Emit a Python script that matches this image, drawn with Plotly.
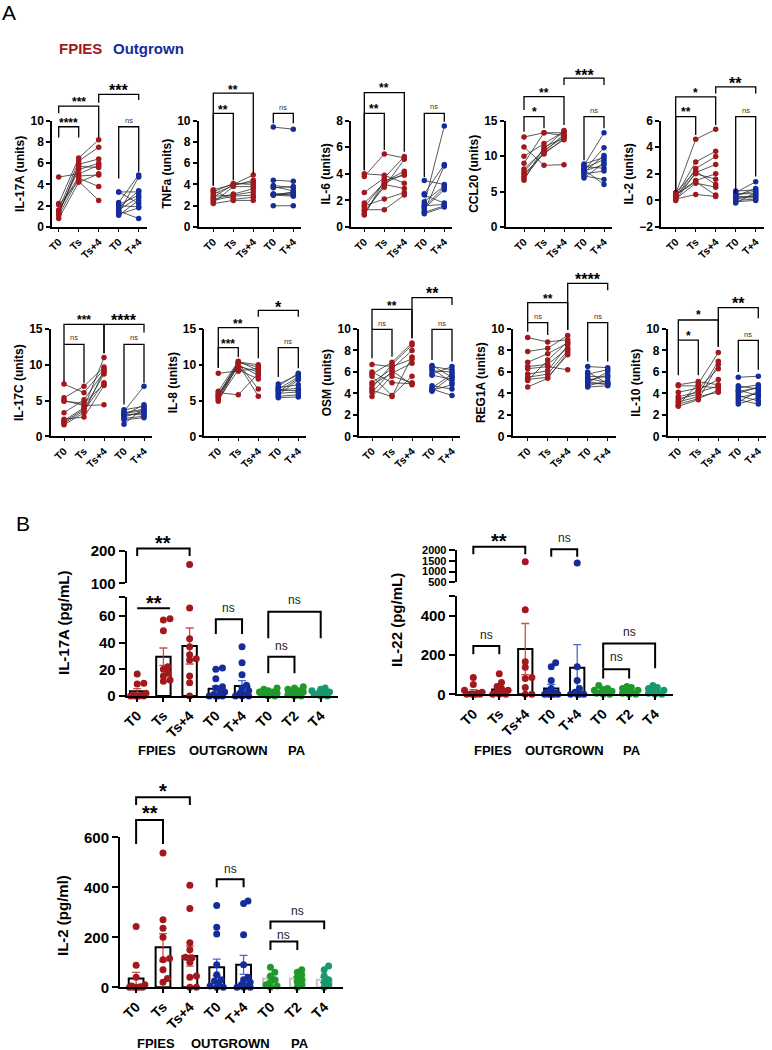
import plotly.graph_objects as go

W, H = 772, 1050
FONT = 'Liberation Sans, Arial, sans-serif'
RED = '#A3181C'
BLUE = '#152C9C'
GREEN = '#1F9A2A'
TEAL = '#179870'

# ---------------- panel A : paired values ----------------
a_ticks = ['T0', 'Ts', 'Ts+4', 'T0', 'T+4']

il17a_t0 = [4.7, 2.2, 2.1, 1.6, 1.4, 1.2, 1.1, 0.8, 1.3, 1.5]
il17a_ts = [5.0, 6.5, 4.3, 6.2, 5.4, 5.9, 4.6, 4.2, 5.7, 4.8]
il17a_ts4 = [5.8, 8.2, 2.5, 7.5, 6.0, 6.4, 3.8, 5.0, 5.6, 4.9]
il17a_o0 = [3.3, 3.3, 2.3, 2.1, 2.0, 1.8, 1.6, 1.5, 1.3, 1.2, 1.1]
il17a_o4 = [3.3, 2.2, 4.9, 3.0, 1.9, 3.4, 2.8, 0.8, 4.7, 1.8, 2.5]

tnfa_t0 = [3.5, 3.4, 3.3, 3.1, 2.9, 2.8, 2.6, 2.5, 2.3, 2.2]
tnfa_ts = [4.0, 2.6, 4.1, 3.9, 3.0, 4.0, 3.1, 2.9, 3.8, 2.5]
tnfa_ts4 = [4.2, 2.8, 4.0, 4.4, 3.3, 4.9, 3.6, 3.0, 3.8, 2.5]
tnfa_o0 = [9.4, 4.4, 3.9, 3.8, 3.7, 3.1, 3.0, 3.0, 3.0, 2.0, 3.1]
tnfa_o4 = [9.2, 4.3, 3.7, 3.4, 3.8, 3.2, 3.1, 2.9, 3.3, 2.0, 3.0]

il6_t0 = [4.0, 3.8, 2.6, 1.8, 1.6, 1.5, 1.3, 1.2, 1.0, 0.9]
il6_ts = [3.9, 5.5, 3.7, 3.3, 2.1, 3.4, 1.3, 3.0, 3.2, 3.5]
il6_ts4 = [3.3, 5.2, 5.3, 4.0, 2.6, 4.2, 2.4, 5.1, 2.9, 3.9]
il6_o0 = [3.5, 2.5, 2.4, 1.9, 1.7, 1.6, 1.5, 1.4, 1.2, 1.1, 1.0]
il6_o4 = [3.2, 4.7, 1.8, 3.1, 7.6, 1.7, 3.0, 2.8, 4.6, 1.6, 1.5]

ccl20_t0 = [12.7, 11.3, 10.0, 9.0, 8.2, 7.8, 7.5, 7.2, 6.9, 6.6]
ccl20_ts = [13.3, 8.7, 11.8, 13.3, 10.8, 11.0, 10.3, 10.6, 10.5, 11.3]
ccl20_ts4 = [13.3, 8.8, 13.5, 12.9, 12.7, 13.6, 12.5, 13.1, 12.3, 12.6]
ccl20_o0 = [8.9, 8.7, 8.5, 8.3, 8.1, 8.0, 7.9, 7.7, 7.5, 7.2, 6.9]
ccl20_o4 = [9.8, 13.3, 8.3, 9.5, 6.0, 11.2, 8.8, 10.1, 7.9, 6.7, 9.1]

il2a_t0 = [0.6, 0.5, 0.4, 0.3, 0.3, 0.2, 0.1, 0.1, 0.0, 0.4]
il2a_ts = [2.2, 4.6, 1.4, 2.9, 2.0, 2.4, 0.45, 1.3, 2.1, 1.5]
il2a_ts4 = [1.2, 5.35, 0.4, 3.7, 1.6, 3.3, 0.3, 1.0, 2.7, 2.0]
il2a_o0 = [0.7, 0.6, 0.5, 0.4, 0.3, 0.2, 0.1, 0.0, -0.1, -0.2, 0.35]
il2a_o4 = [0.8, 1.4, 0.5, 0.7, 0.3, 0.2, 0.4, 0.1, 0.0, 0.6, 0.9]

il17c_t0 = [7.3, 5.4, 5.0, 4.9, 3.3, 2.4, 2.2, 2.0, 1.8, 1.6]
il17c_ts = [6.1, 7.0, 4.3, 4.6, 5.1, 2.7, 4.0, 3.8, 3.6, 3.3]
il17c_ts4 = [9.4, 9.7, 4.4, 7.3, 9.0, 7.1, 11.0, 8.7, 7.5, 9.2]
il17c_o0 = [3.7, 3.5, 3.3, 3.1, 3.0, 2.9, 2.7, 2.5, 2.3, 1.7, 3.2]
il17c_o4 = [4.2, 7.0, 3.8, 3.0, 4.4, 3.3, 3.5, 2.8, 2.6, 4.0, 3.6]

il8_t0 = [8.8, 6.3, 6.1, 5.9, 5.7, 5.6, 5.5, 5.3, 5.1, 4.9]
il8_ts = [9.1, 10.5, 5.8, 10.2, 10.4, 9.8, 10.3, 10.0, 9.3, 10.1]
il8_ts4 = [9.5, 9.2, 8.8, 6.6, 10.0, 9.0, 9.7, 8.5, 8.0, 5.6]
il8_o0 = [7.3, 7.0, 6.8, 6.6, 6.4, 6.2, 6.0, 5.8, 5.6, 5.4, 6.5]
il8_o4 = [8.6, 8.8, 7.2, 8.3, 6.4, 8.1, 6.2, 7.9, 5.8, 5.5, 6.7]

osm_t0 = [6.7, 6.0, 5.8, 5.6, 5.0, 4.8, 4.5, 4.3, 4.1, 3.7]
osm_ts = [6.5, 5.0, 6.9, 3.8, 6.3, 5.9, 6.7, 3.7, 6.1, 5.6]
osm_ts4 = [7.2, 4.9, 8.7, 5.6, 8.0, 6.8, 8.5, 7.4, 4.8, 5.0]
osm_o0 = [6.6, 6.5, 6.3, 5.8, 5.7, 4.7, 4.5, 4.4, 4.3, 4.2, 6.1]
osm_o4 = [5.5, 6.2, 5.0, 6.5, 5.3, 4.4, 5.8, 3.8, 4.8, 5.6, 6.0]

reg1a_t0 = [9.2, 7.9, 6.9, 6.5, 6.3, 5.8, 5.5, 5.3, 5.2, 4.6]
reg1a_ts = [8.8, 8.2, 7.7, 6.7, 6.5, 6.1, 5.8, 5.5, 7.1, 5.4]
reg1a_ts4 = [9.0, 9.4, 8.7, 8.2, 6.2, 8.5, 8.0, 7.6, 8.8, 7.8]
reg1a_o0 = [6.5, 6.0, 5.8, 5.6, 5.4, 5.2, 5.1, 5.0, 4.9, 4.7, 4.6]
reg1a_o4 = [6.4, 4.9, 6.2, 5.5, 5.0, 5.7, 4.8, 6.0, 4.9, 5.2, 4.7]

il10_t0 = [4.8, 4.7, 4.1, 3.7, 3.5, 3.3, 3.2, 3.0, 2.9, 2.8]
il10_ts = [5.1, 4.7, 4.5, 4.1, 3.9, 4.3, 3.7, 3.5, 4.9, 3.4]
il10_ts4 = [4.8, 4.5, 6.3, 4.7, 7.0, 5.3, 4.1, 4.3, 7.8, 6.7]
il10_o0 = [5.5, 4.7, 4.5, 4.3, 4.0, 3.8, 3.6, 3.4, 3.2, 3.0, 4.2]
il10_o4 = [5.6, 4.4, 4.8, 3.8, 4.6, 3.3, 4.0, 3.0, 4.2, 3.6, 4.5]

# brackets: (from, to, top, left leg end, right leg end, label, label y)
il17a_br = [(0, 1, 9.43, 8.43, 8.43, '****', 10.0), (0, 2, 11.38, 10.69, 8.43, '***', 11.95),
            (2, 4, 12.48, 11.7, 11.95, '***', 13.1), (3, 4, 9.43, 4.56, 5.19, 'ns', 10.0)]
tnfa_br = [(0, 1, 10.69, 3.9, 4.4, '**', 11.26), (0, 2, 12.6, 3.9, 5.03, '**', 13.1),
           (3, 4, 10.69, 9.75, 9.75, 'ns', 11.26)]
il6_br = [(0, 1, 8.55, 4.28, 5.79, '**', 9.06), (0, 2, 10.11, 4.28, 5.66, '**', 10.62),
          (3, 4, 8.55, 3.77, 7.92, 'ns', 9.06)]
ccl20_br = [(0, 1, 15.57, 13.44, 13.92, '*', 16.5), (0, 2, 18.4, 16.5, 14.4, '**', 19.3),
            (2, 4, 21.0, 20.05, 20.05, '***', 21.8), (3, 4, 15.57, 9.43, 13.92, 'ns', 16.5)]
il2a_br = [(0, 1, 6.3, 0.68, 4.93, '**', 6.8), (0, 2, 7.8, 0.68, 5.68, '*', 8.3),
           (2, 4, 8.55, 8.05, 8.05, '**', 9.05), (3, 4, 6.3, 0.55, 1.8, 'ns', 6.8)]
il17c_br = [(0, 1, 12.86, 7.6, 7.5, 'ns', 13.8), (0, 2, 15.65, 12.86, 11.6, '***', 16.6),
            (2, 4, 15.65, 11.6, 14.5, '****', 16.6), (3, 4, 12.86, 4.45, 7.5, 'ns', 13.8)]
il8_br = [(0, 1, 12.4, 9.6, 11.1, '***', 13.2), (0, 2, 15.2, 9.6, 10.9, '**', 16.0),
          (2, 4, 17.6, 16.7, 16.7, '*', 18.5), (3, 4, 12.4, 8.3, 9.5, 'ns', 13.2)]
osm_br = [(0, 1, 9.97, 7.27, 7.42, 'ns', 10.5), (0, 2, 11.83, 9.97, 9.13, '**', 12.4),
          (2, 4, 12.92, 9.13, 12.23, '**', 13.6), (3, 4, 9.97, 7.11, 6.96, 'ns', 10.5)]
reg1a_br = [(0, 1, 10.6, 9.75, 9.44, 'ns', 11.2), (0, 2, 12.45, 10.6, 9.91, '**', 13.0),
            (2, 4, 14.25, 9.91, 13.6, '****', 14.9), (3, 4, 10.6, 6.96, 6.96, 'ns', 11.2)]
il10_br = [(0, 1, 8.97, 5.7, 5.7, '*', 9.6), (0, 2, 10.84, 8.97, 8.35, '*', 11.5),
           (2, 4, 12.0, 8.35, 11.0, '**', 12.7), (3, 4, 8.94, 6.0, 6.2, 'ns', 9.5)]

# ---------------- panel B : bar + dot plots ----------------
b_ticks = ['T0', 'Ts', 'Ts+4', 'T0', 'T+4', 'T0', 'T2', 'T4']
b_groups = ['FPIES', 'OUTGROWN', 'PA']

il17a_b_pts = [
    [16.5, 9.5, 9.0, 2.0, 1.0, 0.5, 0, 0, 0, 0, 0],
    [58, 57, 49, 22, 20, 17, 12, 11, 15],
    [158, 66, 43, 37, 31, 28, 15, 10, 0, 27],
    [21, 20, 13, 7, 6, 3, 2, 1, 0, 0, 0, 0],
    [37, 25, 16, 8, 6, 4, 2, 1, 0, 0, 0],
    [6, 5, 4, 3, 3, 2, 2, 1, 1, 0, 0],
    [7, 6, 5, 4, 3, 2, 1, 1, 0, 0],
    [6, 5, 4, 3, 2, 2, 1, 0, 0],
]
il17a_b_mean = [3.5, 29.5, 37.5, 5.5, 7.5, 2.5, 3.0, 2.5]
il17a_b_sem = [2.0, 6.5, 13.5, 2.0, 4.0, 0.6, 0.7, 0.6]

il22_b_pts = [
    [85, 50, 20, 10, 5, 2, 0, 0, 0, 0],
    [105, 60, 40, 30, 20, 10, 5, 0, 0, 0],
    [1450, 430, 165, 137, 85, 80, 35, 0, 0],
    [160, 140, 70, 30, 10, 5, 0, 0, 0, 0, 0],
    [1400, 140, 70, 30, 10, 0, 0, 0, 0],
    [45, 30, 25, 20, 15, 10, 10, 5, 0, 0],
    [40, 35, 30, 20, 15, 10, 5, 0, 0],
    [45, 35, 30, 20, 15, 10, 5, 0, 0],
]
il22_b_mean = [12, 25, 230, 30, 135, 15, 15, 17]
il22_b_sem = [12, 10, 130, 20, 118, 4, 4, 4]

il2_b_pts = [
    [243, 88, 40, 10, 5, 0, 0, 0, 0, 0, 2],
    [537, 270, 236, 200, 115, 110, 70, 35, 20],
    [408, 315, 178, 150, 120, 118, 100, 45, 40, 0, 0],
    [327, 240, 213, 90, 50, 30, 25, 10, 5, 0, 0],
    [345, 335, 210, 90, 40, 30, 20, 10, 5, 0, 0, 0],
    [80, 60, 45, 30, 20, 10, 5, 0],
    [70, 60, 50, 40, 30, 20, 10, 0],
    [85, 70, 45, 30, 20, 10, 0],
]
il2_b_mean = [35, 160, 125, 80, 90, 35, 35, 30]
il2_b_sem = [25, 55, 40, 33, 38, 10, 8, 10]

il17a_b_br_low = [(0, 1.25, 65.75, 65.75, 65.75, '**', 72.75), (3, 4, 57.5, 46.5, 46.5, 'ns', 65.75),
                  (5, 7, 63.25, 43.25, 43.25, 'ns', 72.0), (5, 6, 29.5, 17, 17, 'ns', 37.5)]
il17a_b_br_up = [(0, 2, 207, 184, 184, '**', 237)]
il22_b_br_low = [(0, 1, 246, 204, 204, 'ns', 300), (5, 7, 258, 132, 132, 'ns', 317),
                 (5, 6, 128, 81, 81, 'ns', 191)]
il22_b_br_up = [(0, 2, 2155, 1800, 1800, '**', 2590), (3, 4, 2031, 1690, 1690, 'ns', 2541)]
il2_b_br = [(0, 2, 760, 729, 729, '*', 803), (0, 1, 669, 573, 573, '**', 712),
            (3, 4, 432, 400, 400, 'ns', 472), (5, 7, 263, 232, 232, 'ns', 307),
            (5, 6, 183, 149, 149, 'ns', 209)]

b_colors = [RED, RED, RED, BLUE, BLUE, GREEN, GREEN, TEAL]

# ---------------- figure building ----------------
layout = dict(width=W, height=H, margin=dict(l=0, r=0, t=0, b=0), template='none',
              paper_bgcolor='white', plot_bgcolor='rgba(0,0,0,0)', showlegend=False,
              barmode='overlay', font=dict(family=FONT, color='black'))
traces = []
annotations = []
n_axes = {'x': 0, 'y': 0}


def add_axis(kind, **props):
    n_axes[kind] += 1
    n = n_axes[kind]
    name = kind + ('' if n == 1 else str(n))
    props.setdefault('showgrid', False)
    props.setdefault('zeroline', False)
    props.setdefault('fixedrange', True)
    layout[kind + 'axis' + name[1:]] = props
    return name


def ax(name):
    return layout[name[0] + 'axis' + name[1:]]


def label(**kw):
    kw.setdefault('showarrow', False)
    kw.setdefault('xanchor', 'center')
    kw.setdefault('yanchor', 'middle')
    annotations.append(kw)


def overlay_axis(xa, dom_px, rng, ext):
    top, bottom = dom_px
    span = bottom - top
    return add_axis('y', domain=[1 - bottom / H, 1 - (top - ext) / H],
                    range=[rng[0], rng[1] + (rng[1] - rng[0]) * ext / span],
                    visible=False, anchor=xa)


def draw_brackets(xa, ya, brackets, lw, star_size, star_big, ns_size, ns_color):
    bx, by = [], []
    for x1, x2, top, lb, rb, lab, ty in brackets:
        bx += [x1, x1, x2, x2, None]
        by += [lb, top, top, rb, None]
        if lab == 'ns':
            label(x=(x1 + x2) / 2, y=ty, xref=xa, yref=ya, text=lab,
                  font=dict(size=ns_size, color=ns_color))
        else:
            size = star_big if (x1, x2) == (2, 4) else star_size
            label(x=(x1 + x2) / 2, y=ty, xref=xa, yref=ya, text=lab,
                  yshift=-0.2 * size, font=dict(size=size, weight='bold'))
    traces.append(go.Scatter(x=bx, y=by, xaxis=xa, yaxis=ya, mode='lines',
                             line=dict(color='black', width=lw), hoverinfo='skip'))


def draw_a(axis_px, t0_px, top, bottom, ylabel, t0, ts, ts4, o0, o4, yr, yticks, brackets):
    step = 20.0  # px between time points
    right = t0_px + 4 * step + 8
    xa = add_axis('x', domain=[axis_px / W, right / W],
                  range=[-(t0_px - axis_px) / step, 4.4],
                  tickmode='array', tickvals=[0, 1, 2, 3, 4], ticktext=a_ticks, tickangle=-45,
                  showline=True, linecolor='black', linewidth=1.5,
                  ticks='outside', ticklen=3, tickwidth=1.2, tickcolor='black',
                  tickfont=dict(size=10.5, weight='bold'))
    ya = add_axis('y', domain=[1 - bottom / H, 1 - top / H], range=yr,
                  tickmode='array', tickvals=yticks,
                  showline=True, linecolor='black', linewidth=1.5,
                  ticks='outside', ticklen=4, tickwidth=1.5, tickcolor='black',
                  tickfont=dict(size=12, weight='bold'),
                  title=dict(text=ylabel, font=dict(size=12, weight='bold'), standoff=3))
    ax(xa)['anchor'] = ya
    ax(ya)['anchor'] = xa

    fx, fy = [], []
    for a, b, c in zip(t0, ts, ts4):
        fx += [0, 1, 2, None]
        fy += [a, b, c, None]
    ox, oy = [], []
    for a, b in zip(o0, o4):
        ox += [3, 4, None]
        oy += [a, b, None]
    for xs, ys, col in ((fx, fy, RED), (ox, oy, BLUE)):
        traces.append(go.Scatter(x=xs, y=ys, xaxis=xa, yaxis=ya, mode='lines+markers',
                                 line=dict(color='#303030', width=0.8),
                                 marker=dict(color=col, size=5.5), cliponaxis=False))
    yo = overlay_axis(xa, (top, bottom), yr, 62)
    draw_brackets(xa, yo, brackets, 1.3, 12, 16, 7.5, '#333333')


# (y-axis x, first time point x) in pixels
row1_pos = [(52, 58.7), (198.7, 213.3), (351, 364.3), (505.7, 524), (661, 675.7)]
row2_pos = [(50.7, 64), (204.3, 218.3), (359, 372), (512.7, 527.7), (667.7, 678.3)]
row1 = [
    ('IL-17A (units)', il17a_t0, il17a_ts, il17a_ts4, il17a_o0, il17a_o4, [0, 10], [0, 2, 4, 6, 8, 10], il17a_br),
    ('TNFa (units)', tnfa_t0, tnfa_ts, tnfa_ts4, tnfa_o0, tnfa_o4, [0, 10], [0, 2, 4, 6, 8, 10], tnfa_br),
    ('IL-6 (units)', il6_t0, il6_ts, il6_ts4, il6_o0, il6_o4, [0, 8], [0, 2, 4, 6, 8], il6_br),
    ('CCL20 (units)', ccl20_t0, ccl20_ts, ccl20_ts4, ccl20_o0, ccl20_o4, [0, 15], [0, 5, 10, 15], ccl20_br),
    ('IL-2 (units)', il2a_t0, il2a_ts, il2a_ts4, il2a_o0, il2a_o4, [-2, 6], [-2, 0, 2, 4, 6], il2a_br),
]
row2 = [
    ('IL-17C (units)', il17c_t0, il17c_ts, il17c_ts4, il17c_o0, il17c_o4, [0, 15], [0, 5, 10, 15], il17c_br),
    ('IL-8 (units)', il8_t0, il8_ts, il8_ts4, il8_o0, il8_o4, [0, 15], [0, 5, 10, 15], il8_br),
    ('OSM (units)', osm_t0, osm_ts, osm_ts4, osm_o0, osm_o4, [0, 10], [0, 2, 4, 6, 8, 10], osm_br),
    ('REG1A (units)', reg1a_t0, reg1a_ts, reg1a_ts4, reg1a_o0, reg1a_o4, [0, 10], [0, 2, 4, 6, 8, 10], reg1a_br),
    ('IL-10 (units)', il10_t0, il10_ts, il10_ts4, il10_o0, il10_o4, [0, 10], [0, 2, 4, 6, 8, 10], il10_br),
]
for (axp, t0p), spec in zip(row1_pos, row1):
    draw_a(axp, t0p, 120.7, 227, *spec)
for (axp, t0p), spec in zip(row2_pos, row2):
    draw_a(axp, t0p, 329, 436.3, *spec)


def swarm(values, center, yppu, xppu, mind=4.6, step=2.2, maxoff=9):
    # simple beeswarm: nudge dots sideways so they do not pile up
    placed = []
    xs = [0.0] * len(values)
    cands = [0.0]
    k = 1
    while k * step <= maxoff:
        cands += [k * step, -k * step]
        k += 1
    for i in sorted(range(len(values)), key=lambda j: values[j]):
        yp = values[i] * yppu
        best, best_d = 0.0, -1
        for off in cands:
            d = min([((off - px) ** 2 + (yp - py) ** 2) ** 0.5 for px, py in placed] or [99])
            if d >= mind:
                best = off
                break
            if d > best_d:
                best, best_d = off, d
        placed.append((best, yp))
        xs[i] = center + best / xppu
    return xs


def yaxis_style(dom_px, rng, tickvals, ticktext, xa, fsize=15):
    top, bottom = dom_px
    return dict(domain=[1 - bottom / H, 1 - top / H], range=rng, anchor=xa,
                tickmode='array', tickvals=tickvals, ticktext=ticktext,
                showline=True, linecolor='black', linewidth=2,
                ticks='outside', ticklen=6, tickwidth=2, tickcolor='black',
                tickfont=dict(size=fsize, weight='bold'))


def draw_b(xdom, xrange_, xppu, low_dom, low_rng, low_tv, low_tt, low_ppu,
           up_dom, up_rng, up_tv, up_ppu, up_fsize, pts, means, sems, br_low, br_up,
           title, title_px, label_px_y):
    xa = add_axis('x', domain=[xdom[0] / W, xdom[1] / W], range=xrange_,
                  tickmode='array', tickvals=list(range(8)), ticktext=b_ticks, tickangle=-45,
                  showline=True, linecolor='black', linewidth=2,
                  ticks='outside', ticklen=4, tickwidth=1.5, tickcolor='black',
                  tickfont=dict(size=14, weight='bold'))
    yl = add_axis('y', **yaxis_style(low_dom, low_rng, low_tv, low_tt, xa))
    ax(xa)['anchor'] = yl
    yu = None
    if up_dom is not None:
        yu = add_axis('y', **yaxis_style(up_dom, up_rng, up_tv, [str(v) for v in up_tv], xa, up_fsize))

    groups = [([0, 1, 2], '#000000', 'rgba(200,60,55,0.9)'),
              ([3, 4], '#000000', 'rgba(60,85,200,0.9)'),
              ([5, 6, 7], '#c4c4c4', 'rgba(40,150,60,0.9)')]
    for idx, lc, ec in groups:
        traces.append(go.Bar(x=idx, y=[means[i] for i in idx], xaxis=xa, yaxis=yl, width=0.55,
                             marker=dict(color='white', line=dict(color=lc, width=2)),
                             error_y=dict(type='data', array=[sems[i] for i in idx], color=ec,
                                          thickness=1.3, width=4)))
    for c, vals in enumerate(pts):
        low = [v for v in vals if v <= low_rng[1]]
        high = [v for v in vals if v > low_rng[1]]
        traces.append(go.Scatter(x=swarm(low, c, low_ppu, xppu), y=low, xaxis=xa, yaxis=yl,
                                 mode='markers', marker=dict(color=b_colors[c], size=7),
                                 cliponaxis=False))
        if high and yu is not None:
            traces.append(go.Scatter(x=swarm(high, c, up_ppu, xppu), y=high, xaxis=xa, yaxis=yu,
                                     mode='markers', marker=dict(color=b_colors[c], size=7),
                                     cliponaxis=False))
    yo = overlay_axis(xa, low_dom, low_rng, 70)
    draw_brackets(xa, yo, br_low, 2, 20, 20, 12, '#222222')
    if br_up:
        yo2 = overlay_axis(xa, up_dom, up_rng, 45)
        draw_brackets(xa, yo2, br_up, 2, 20, 20, 12, '#222222')

    label(x=title_px[0] / W, y=1 - title_px[1] / H, xref='paper', yref='paper',
          text=title, textangle=-90, font=dict(size=15, weight='bold'))
    for name, gx in zip(b_groups, [0.75, 3.5, 6.1]):
        label(x=gx, y=1 - label_px_y / H, xref=xa, yref='paper', text=name,
              font=dict(size=13, weight='bold'))


draw_b((126.7, 338), [-0.4, 7.66], 26.2,
       (596.7, 696), [0, 74.5], [0, 20, 40, 60, 74.5], ['0', '20', '40', '60', ''], 1.333,
       (550.7, 583.3), [100, 200], [100, 200], 0.326, 15,
       il17a_b_pts, il17a_b_mean, il17a_b_sem, il17a_b_br_low, il17a_b_br_up,
       'IL-17A (pg/mL)', (63, 623), 750)
draw_b((456.7, 673.3), [-0.64, 7.7], 25.96,
       (596, 694.3), [0, 500], [0, 200, 400, 500], ['0', '200', '400', ''], 0.1967,
       (550, 582.3), [500, 2000], [500, 1000, 1500, 2000], 0.0215, 11,
       il22_b_pts, il22_b_mean, il22_b_sem, il22_b_br_low, il22_b_br_up,
       'IL-22 (pg/mL)', (396, 620), 750)
draw_b((120, 343), [-0.6, 7.7], 26.9,
       (837.3, 987.3), [0, 600], [0, 200, 400, 600], ['0', '200', '400', '600'], 0.25,
       None, None, None, None, 15,
       il2_b_pts, il2_b_mean, il2_b_sem, il2_b_br, [],
       'IL-2 (pg/ml)', (62, 915), 1043)

# panel letters and legend
label(x=0, y=1 - 12 / H, xref='paper', yref='paper', text='A', xanchor='left', font=dict(size=21))
label(x=14 / W, y=1 - 523 / H, xref='paper', yref='paper', text='B', xanchor='left', font=dict(size=21))
label(x=57 / W, y=1 - 49 / H, xref='paper', yref='paper', text='FPIES', xanchor='left',
      font=dict(size=15, weight='bold', color=RED))
label(x=111 / W, y=1 - 49 / H, xref='paper', yref='paper', text='Outgrown', xanchor='left',
      font=dict(size=15, weight='bold', color=BLUE))
layout['annotations'] = annotations

fig = go.Figure(data=traces, layout=layout)
fig.write_html("out.html", config={'displayModeBar': False},
               post_script="document.body.style.margin = '0px';")
